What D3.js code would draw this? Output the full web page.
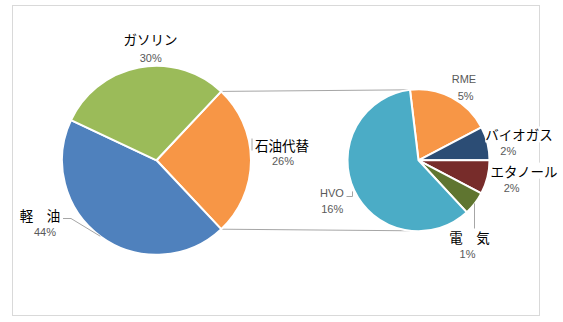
<!DOCTYPE html>
<html><head><meta charset="utf-8">
<script src="https://cdn.jsdelivr.net/npm/d3@7"></script>
<style>body{margin:0;background:#fff}svg{display:block}</style>
</head><body>
<svg id="c" width="563" height="322"></svg>
<script>
// ---- data ----
const mainCats = ["石油代替", "軽　油", "ガソリン"];
const mainValues = [26, 44, 30];
const subCats = ["RME", "バイオガス", "エタノール", "電　気", "HVO"];
const subValues = [5.0, 2.0, 2.0, 1.4, 15.6];

// ---- styles / layout ----
const mainColors = ["#F79646", "#4F81BD", "#9BBB59"];
const subColors = ["#F79646", "#2C4D75", "#772C2A", "#5F7530", "#4BACC6"];
const main = {cx: 156.5, cy: 160.3, r: 94.5};
const sub = {cx: 418.5, cy: 160.3, r: 71};
const subStartDeg = -6.9;
const catFont = "'Noto Sans CJK JP', 'Noto Sans', sans-serif";
const pctFont = "'Liberation Sans', Arial, sans-serif";
// label layout: [name center x, name center y, pct center x, pct center y, dark?]
const mainLabelPos = {
  "石油代替": [282, 145.5, 283, 161],
  "軽　油": [40, 216, 45, 232.3],
  "ガソリン": [150.5, 40, 150.7, 57.7]
};
const subLabelPos = {
  "RME": [464, 79.3, 465.7, 95.7, false],
  "バイオガス": [519, 135.3, 508.3, 150.9, true],
  "エタノール": [524, 171.5, 511.7, 188.3, true],
  "電　気": [469.5, 238.1, 467.5, 254.2, true],
  "HVO": [332, 193.3, 332.2, 209.3, false]
};

const svg = d3.select("#c");
svg.append("rect").attr("x", 12.5).attr("y", 5.5).attr("width", 527).attr("height", 310)
  .attr("fill", "#fff").attr("stroke", "#d9d9d9").attr("stroke-width", 1);

const deg = Math.PI / 180;
const mainTotal = d3.sum(mainValues);
const mainStart = Math.PI / 2 - (mainValues[0] / mainTotal) * Math.PI;
const mainPie = d3.pie().sort(null).startAngle(mainStart).endAngle(mainStart + 2 * Math.PI);
const mainArcs = mainPie(mainValues);
const mainArc = d3.arc().innerRadius(0).outerRadius(main.r);

const subStart = subStartDeg * deg;
const subPie = d3.pie().sort(null).startAngle(subStart).endAngle(subStart + 2 * Math.PI);
const subArcs = subPie(subValues);
const subArc = d3.arc().innerRadius(0).outerRadius(sub.r);

const grey = "#a6a6a6";

// connector lines
const split = mainArcs[0];
const pTop1 = d3.pointRadial(split.startAngle, main.r);
const pBot1 = d3.pointRadial(split.endAngle, main.r);
const pTop2 = d3.pointRadial(subStart, sub.r);
const pBot2 = d3.pointRadial(Math.PI - subStart, sub.r);
svg.append("line").attr("x1", main.cx + pTop1[0]).attr("y1", main.cy + pTop1[1])
  .attr("x2", sub.cx + pTop2[0]).attr("y2", sub.cy + pTop2[1]).attr("stroke", grey).attr("stroke-width", 1);
svg.append("line").attr("x1", main.cx + pBot1[0]).attr("y1", main.cy + pBot1[1])
  .attr("x2", sub.cx + pBot2[0]).attr("y2", sub.cy + pBot2[1]).attr("stroke", grey).attr("stroke-width", 1);

// pies
const gM = svg.append("g").attr("transform", `translate(${main.cx},${main.cy})`);
gM.selectAll("path").data(mainArcs).join("path").attr("d", mainArc)
  .attr("fill", (d, i) => mainColors[i]).attr("stroke", "#fff").attr("stroke-width", 2).attr("stroke-linejoin", "round");
const gS = svg.append("g").attr("transform", `translate(${sub.cx},${sub.cy})`);
gS.selectAll("path").data(subArcs).join("path").attr("d", subArc)
  .attr("fill", (d, i) => subColors[i]).attr("stroke", "#fff").attr("stroke-width", 2).attr("stroke-linejoin", "round");

// leader lines
const lead = svg.append("g").attr("fill", "none").attr("stroke", grey).attr("stroke-width", 1);
{ // 軽油
  const p = d3.pointRadial(216.5 * deg, main.r);
  lead.append("polyline").attr("points", `63,218.5 71,218.5 ${main.cx + p[0]},${main.cy + p[1]}`);
}
{ // 石油代替
  lead.append("line").attr("x1", 252).attr("y1", 138.5).attr("x2", 252).attr("y2", 150.5);
}
{ // 電気
  const p = d3.pointRadial(subArcs[3].startAngle + (subArcs[3].endAngle - subArcs[3].startAngle) * 0.5, sub.r);
  lead.append("line").attr("x1", 474.5).attr("y1", sub.cy + p[1]).attr("x2", 474.5).attr("y2", 228.5);
}
{ // HVO
  const p = d3.pointRadial(244 * deg, sub.r);
  const x = Math.round(sub.cx + p[0] - 3) + 0.5;
  lead.append("polyline").attr("points", `346.5,196.5 ${x},196.5 ${x},${sub.cy + p[1]}`);
}

// labels
const fmt = v => Math.round(v) + "%";
function label(name, pos, value, dark) {
  const g = svg.append("g");
  const t1 = g.append("text").attr("x", pos[0]).attr("y", pos[1]).attr("dy", dark ? "0.38em" : "0.36em")
    .attr("text-anchor", "middle").attr("font-family", dark ? catFont : pctFont)
    .attr("font-size", dark ? 13.5 : 11).attr("fill", dark ? "#000" : "#595959").text(name);
  const t2 = g.append("text").attr("x", pos[2]).attr("y", pos[3]).attr("dy", "0.36em")
    .attr("text-anchor", "middle").attr("font-family", pctFont)
    .attr("font-size", 11).attr("fill", "#595959").text(value);
  [t1, t2].forEach(t => {
    const b = t.node().getBBox();
    g.insert("rect", "text").attr("x", b.x).attr("y", b.y + 2).attr("width", b.width).attr("height", Math.max(0, b.height - 4)).attr("fill", "#fff");
  });
}
mainCats.forEach((c, i) => label(c, mainLabelPos[c], fmt(mainValues[i]), true));
subCats.forEach((c, i) => label(c, subLabelPos[c], fmt(subValues[i]), subLabelPos[c][4]));
</script>
</body></html>
